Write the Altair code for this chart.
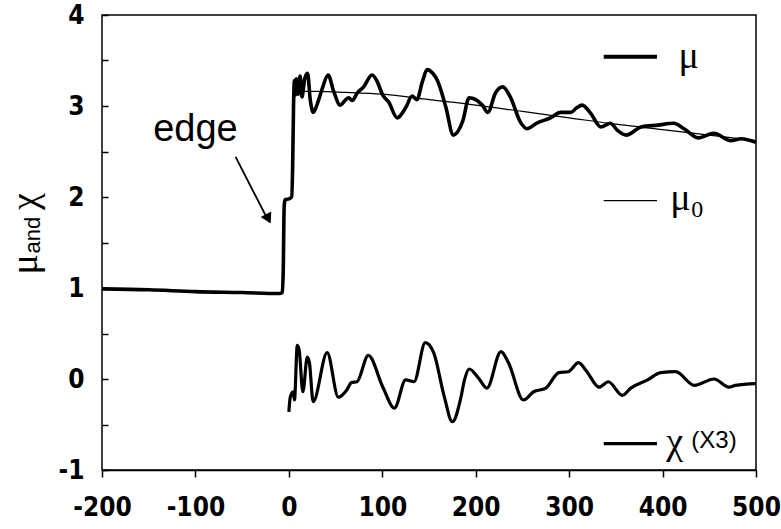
import altair as alt
import pandas as pd

# mu (absorption) curve
mu_x = [-200, -150, -100, -50, -10, -7, -6, -5, -4, 0, 3, 4, 5, 6, 7, 8, 10, 12, 14, 17,
        20, 23, 26, 30, 36, 42, 48, 55, 60, 64, 68, 73, 80, 89, 95, 100, 107, 116, 125, 132,
        137, 143, 148, 154, 159, 168, 176, 186, 193, 200, 207, 213, 221, 229, 237, 248, 255,
        265, 280, 291, 302, 308, 314, 323, 334, 344, 352, 361, 377, 395, 412, 423, 438, 455,
        473, 484, 500]
mu_y = [0.99, 0.98, 0.96, 0.95, 0.94, 0.95, 1.2, 1.9, 1.97, 1.98, 2.0, 2.3, 3.0, 3.28, 3.12,
        3.3, 3.13, 3.33, 3.1, 3.3, 3.36, 3.06, 2.93, 3.01, 3.2, 3.34, 3.16, 3.01, 3.06, 3.09,
        3.06, 3.14, 3.21, 3.34, 3.26, 3.13, 3.04, 2.87, 2.98, 3.11, 3.07, 3.27, 3.4, 3.36, 3.28,
        2.99, 2.68, 2.83, 3.09, 3.07, 3.01, 2.93, 3.14, 3.21, 3.10, 2.82, 2.75, 2.81, 2.87, 2.93,
        2.93, 2.98, 3.01, 2.92, 2.77, 2.81, 2.73, 2.68, 2.77, 2.79, 2.81, 2.75, 2.65, 2.70, 2.62,
        2.64, 2.60]

# mu0 (smooth background)
mu0_x = [5, 30, 60, 100, 150, 200, 250, 300, 350, 400, 450, 500]
mu0_y = [3.16, 3.16, 3.15, 3.13, 3.07, 3.01, 2.94, 2.87, 2.80, 2.74, 2.68, 2.62]

# chi (x3)
chi_x = [0, 1.5, 4.5, 6, 9, 11, 15, 19.7, 22, 26, 41, 53, 62, 67, 73, 85, 101, 113, 125, 134,
         146, 155, 166, 175, 184, 188, 193, 203, 212, 227, 235, 251, 262, 275, 289, 299, 310,
         319, 332, 342, 357, 366, 384, 398, 414, 434, 455, 471, 478, 500]
chi_y = [-0.36, -0.20, -0.14, -0.23, 0.37, 0.32, -0.14, 0.24, 0.18, -0.25, 0.29, -0.20, -0.12,
         -0.04, -0.03, 0.26, -0.10, -0.32, -0.01, -0.03, 0.40, 0.29, -0.18, -0.47, -0.21, -0.01,
         0.11, 0.01, -0.10, 0.30, 0.18, -0.23, -0.14, -0.10, 0.07, 0.08, 0.18, 0.08, -0.09,
         -0.03, -0.18, -0.10, -0.01, 0.07, 0.08, -0.07, 0.0, -0.09, -0.07, -0.05]

x_ticks = [-200, -100, 0, 100, 200, 300, 400, 500]
y_ticks = [-1, -0.5, 0, 0.5, 1, 1.5, 2, 2.5, 3, 3.5, 4]

# legend samples
leg_x = [337, 394]
leg_mu_y = 3.54
leg_mu0_y = 1.96
leg_chi_y = -0.71

LABEL_FONT = "DejaVu Sans Condensed, Liberation Sans, sans-serif"

X = alt.X("x:Q", scale=alt.Scale(domain=[-200, 500], nice=False, zero=False),
          axis=alt.Axis(values=x_ticks, title=None, grid=False, tickSize=7,
                        labelPadding=17, labelFontSize=26, labelFont=LABEL_FONT,
                        labelFontWeight="bold", labelColor="black", tickColor="black",
                        domainColor="black", domainWidth=1.5, tickWidth=1.5,
                        labelFlush=False, labelOverlap=False,
                        labelExpr="'' + datum.value"))
Y = alt.Y("y:Q", scale=alt.Scale(domain=[-1, 4], nice=False, zero=False),
          axis=alt.Axis(values=y_ticks, title=None, grid=False, tickSize=6, offset=-6,
                        domain=False,
                        labelPadding=18, labelFontSize=26, labelFont=LABEL_FONT,
                        labelFontWeight="bold", labelColor="black", tickColor="black",
                        tickWidth=1.5, labelFlush=False, labelOverlap=False,
                        labelExpr="datum.value % 1 == 0 ? '' + datum.value : ''"))

mu_df = pd.DataFrame({"x": mu_x, "y": mu_y})
mu0_df = pd.DataFrame({"x": mu0_x, "y": mu0_y})
chi_df = pd.DataFrame({"x": chi_x, "y": chi_y})

mu_line = alt.Chart(mu_df).mark_line(color="black", strokeWidth=3.6, interpolate="monotone").encode(x=X, y=Y)
mu0_line = alt.Chart(mu0_df).mark_line(color="black", strokeWidth=1.2, interpolate="monotone").encode(x="x:Q", y="y:Q")
chi_line = alt.Chart(chi_df).mark_line(color="black", strokeWidth=3.2, interpolate="monotone").encode(x="x:Q", y="y:Q")

leg_df = pd.DataFrame({
    "x": leg_x * 3,
    "y": [leg_mu_y] * 2 + [leg_mu0_y] * 2 + [leg_chi_y] * 2,
    "s": ["mu"] * 2 + ["mu0"] * 2 + ["chi"] * 2,
    "w": [4.0] * 2 + [1.2] * 2 + [3.2] * 2,
})
legend_lines = alt.Chart(leg_df).mark_line(color="black").encode(
    x="x:Q", y="y:Q", detail="s:N",
    strokeWidth=alt.StrokeWidth("w:Q", scale=None, legend=None))

sym_df = pd.DataFrame({"x": [428, 419, 413], "y": [3.54, 1.98, -0.70], "t": ["μ", "μ", "χ"]})
symbols = alt.Chart(sym_df).mark_text(font="Liberation Serif", fontSize=38, color="black",
                                      align="center", baseline="middle").encode(x="x:Q", y="y:Q", text="t:N")
sub_df = pd.DataFrame({"x": [437], "y": [1.86], "t": ["0"]})
sub = alt.Chart(sub_df).mark_text(font="Liberation Serif", fontSize=24, color="black",
                                  align="center", baseline="middle").encode(x="x:Q", y="y:Q", text="t:N")
x3_df = pd.DataFrame({"x": [455], "y": [-0.68], "t": ["(X3)"]})
x3 = alt.Chart(x3_df).mark_text(font="Liberation Sans", fontSize=24, color="black",
                                align="center", baseline="middle").encode(x="x:Q", y="y:Q", text="t:N")

edge_df = pd.DataFrame({"x": [-100], "y": [2.74], "t": ["edge"]})
edge = alt.Chart(edge_df).mark_text(font="Liberation Sans", fontSize=38, color="black",
                                    align="center", baseline="middle").encode(x="x:Q", y="y:Q", text="t:N")
arrow_df = pd.DataFrame({"x": [-57, -22], "y": [2.44, 1.74]})
arrow = alt.Chart(arrow_df).mark_line(color="black", strokeWidth=1.8).encode(x="x:Q", y="y:Q")
head_df = pd.DataFrame({"x": [-22], "y": [1.76]})
head = alt.Chart(head_df).mark_point(shape="triangle-up", angle=153, filled=True, size=140,
                                     color="black", opacity=1).encode(x="x:Q", y="y:Q")

greek_df = pd.DataFrame({"x": [-281, -281], "y": [1.26, 1.95], "t": ["μ", "χ"]})
ytitle_greek = alt.Chart(greek_df).mark_text(
    font="Liberation Serif", fontSize=38, angle=270, color="black",
    align="center", baseline="middle").encode(x="x:Q", y="y:Q", text="t:N")
and_df = pd.DataFrame({"x": [-274], "y": [1.58], "t": ["and"]})
ytitle_and = alt.Chart(and_df).mark_text(
    font="Liberation Sans", fontSize=22, angle=270, color="black",
    align="center", baseline="middle").encode(x="x:Q", y="y:Q", text="t:N")

chart = alt.layer(mu_line, mu0_line, chi_line, legend_lines, symbols, sub, x3, edge, arrow, head,
                  ytitle_greek, ytitle_and).properties(
    width=654, height=455,
    autosize=alt.AutoSizeParams(type="none"),
    padding={"left": 102, "top": 15, "right": 25, "bottom": 59},
    background="white",
).configure_view(stroke="black", strokeWidth=1.5)

chart.save("out.html", embed_options={"renderer": "svg", "actions": False})
